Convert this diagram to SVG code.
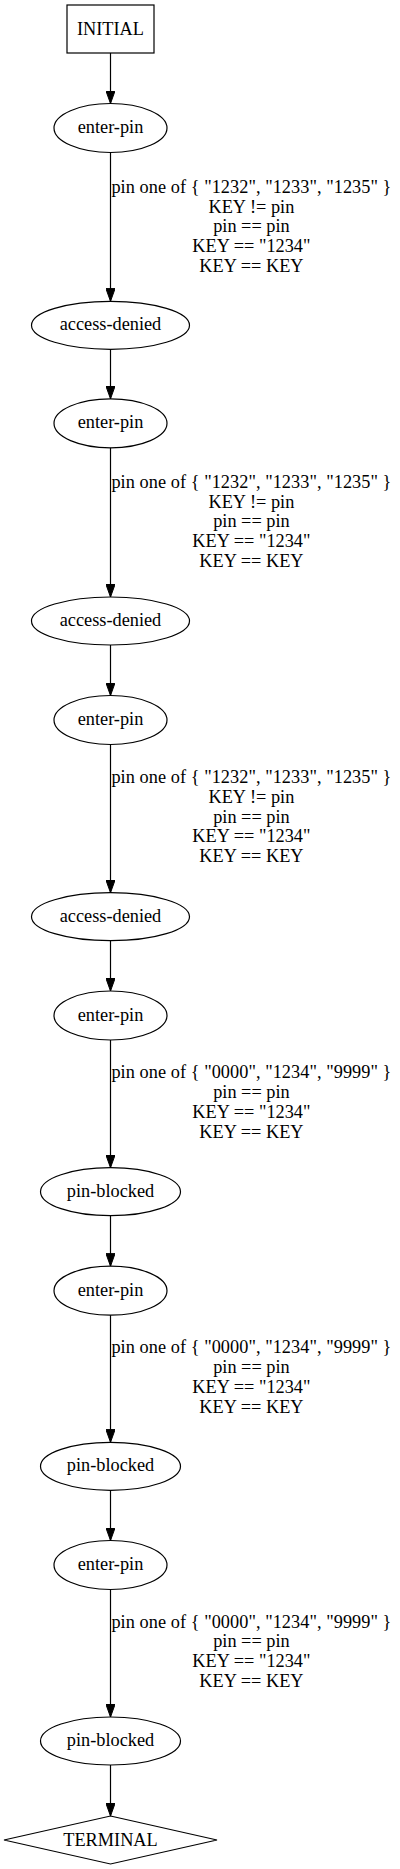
<svg xmlns="http://www.w3.org/2000/svg" width="400" height="1869" viewBox="0 0 400 1869">
<style>
  text { font-family: "Liberation Serif", "Times New Roman", serif; font-size: 18.3px; fill: #000; }
  .n { text-anchor: middle; }
  .lbl { text-anchor: middle; }
  .shape { fill: none; stroke: #000; stroke-width: 1.2; }
  .edge { fill: none; stroke: #000; stroke-width: 1.2; marker-end: url(#arr); }
</style>
<defs>
  <marker id="arr" viewBox="0 0 13 9.4" refX="13" refY="4.7" markerWidth="13" markerHeight="9.4" markerUnits="userSpaceOnUse" orient="auto">
    <path d="M0,0 L13,4.7 L0,9.4 z" fill="#000" stroke="#000" stroke-width="1"/>
  </marker>
</defs>
<rect x="0" y="0" width="400" height="1869" fill="#fff"/>

<g id="edges">
  <path class="edge" d="M110.5,53 L110.5,103.5"/>
  <path class="edge" d="M110.5,152.5 L110.5,301.3"/>
  <path class="edge" d="M110.5,349.3 L110.5,398.8"/>
  <path class="edge" d="M110.5,447.8 L110.5,597"/>
  <path class="edge" d="M110.5,645 L110.5,695.5"/>
  <path class="edge" d="M110.5,744.5 L110.5,892.7"/>
  <path class="edge" d="M110.5,940.7 L110.5,991"/>
  <path class="edge" d="M110.5,1040 L110.5,1167.7"/>
  <path class="edge" d="M110.5,1215.7 L110.5,1266.2"/>
  <path class="edge" d="M110.5,1315.2 L110.5,1442.3"/>
  <path class="edge" d="M110.5,1490.3 L110.5,1540.5"/>
  <path class="edge" d="M110.5,1589.5 L110.5,1717"/>
  <path class="edge" d="M110.5,1765 L110.5,1816"/>

  <g id="label1">
    <text class="lbl" x="251.4" y="192.7" textLength="280" lengthAdjust="spacing">pin one of { "1232", "1233", "1235" }</text>
    <text class="lbl" x="251.4" y="212.5">KEY != pin</text>
    <text class="lbl" x="251.4" y="232.3">pin == pin</text>
    <text class="lbl" x="251.4" y="252.1">KEY == "1234"</text>
    <text class="lbl" x="251.4" y="271.9">KEY == KEY</text>
  </g>
  <g id="label2">
    <text class="lbl" x="251.4" y="487.8" textLength="280" lengthAdjust="spacing">pin one of { "1232", "1233", "1235" }</text>
    <text class="lbl" x="251.4" y="507.6">KEY != pin</text>
    <text class="lbl" x="251.4" y="527.4">pin == pin</text>
    <text class="lbl" x="251.4" y="547.2">KEY == "1234"</text>
    <text class="lbl" x="251.4" y="567">KEY == KEY</text>
  </g>
  <g id="label3">
    <text class="lbl" x="251.4" y="783" textLength="280" lengthAdjust="spacing">pin one of { "1232", "1233", "1235" }</text>
    <text class="lbl" x="251.4" y="802.8">KEY != pin</text>
    <text class="lbl" x="251.4" y="822.6">pin == pin</text>
    <text class="lbl" x="251.4" y="842.4">KEY == "1234"</text>
    <text class="lbl" x="251.4" y="862.2">KEY == KEY</text>
  </g>
  <g id="label4">
    <text class="lbl" x="251.4" y="1078.3" textLength="280" lengthAdjust="spacing">pin one of { "0000", "1234", "9999" }</text>
    <text class="lbl" x="251.4" y="1098.1">pin == pin</text>
    <text class="lbl" x="251.4" y="1117.9">KEY == "1234"</text>
    <text class="lbl" x="251.4" y="1137.7">KEY == KEY</text>
  </g>
  <g id="label5">
    <text class="lbl" x="251.4" y="1353.3" textLength="280" lengthAdjust="spacing">pin one of { "0000", "1234", "9999" }</text>
    <text class="lbl" x="251.4" y="1373.1">pin == pin</text>
    <text class="lbl" x="251.4" y="1392.9">KEY == "1234"</text>
    <text class="lbl" x="251.4" y="1412.7">KEY == KEY</text>
  </g>
  <g id="label6">
    <text class="lbl" x="251.4" y="1627.5" textLength="280" lengthAdjust="spacing">pin one of { "0000", "1234", "9999" }</text>
    <text class="lbl" x="251.4" y="1647.3">pin == pin</text>
    <text class="lbl" x="251.4" y="1667.1">KEY == "1234"</text>
    <text class="lbl" x="251.4" y="1686.9">KEY == KEY</text>
  </g>
</g>

<g id="INITIAL">
  <rect class="shape" x="67" y="5" width="87" height="48"/>
  <text class="n" x="110.5" y="34.5">INITIAL</text>
</g>
<g id="enter-pin-1">
  <ellipse class="shape" cx="110.5" cy="128" rx="56.5" ry="24.5"/>
  <text class="n" x="110.5" y="133">enter-pin</text>
</g>
<g id="access-denied-1">
  <ellipse class="shape" cx="110.5" cy="325.3" rx="79" ry="24"/>
  <text class="n" x="110.5" y="330.3">access-denied</text>
</g>
<g id="enter-pin-2">
  <ellipse class="shape" cx="110.5" cy="423.3" rx="56.5" ry="24.5"/>
  <text class="n" x="110.5" y="428.3">enter-pin</text>
</g>
<g id="access-denied-2">
  <ellipse class="shape" cx="110.5" cy="621" rx="79" ry="24"/>
  <text class="n" x="110.5" y="626">access-denied</text>
</g>
<g id="enter-pin-3">
  <ellipse class="shape" cx="110.5" cy="720" rx="56.5" ry="24.5"/>
  <text class="n" x="110.5" y="725">enter-pin</text>
</g>
<g id="access-denied-3">
  <ellipse class="shape" cx="110.5" cy="916.7" rx="79" ry="24"/>
  <text class="n" x="110.5" y="921.7">access-denied</text>
</g>
<g id="enter-pin-4">
  <ellipse class="shape" cx="110.5" cy="1015.5" rx="56.5" ry="24.5"/>
  <text class="n" x="110.5" y="1020.5">enter-pin</text>
</g>
<g id="pin-blocked-1">
  <ellipse class="shape" cx="110.5" cy="1191.7" rx="70" ry="24"/>
  <text class="n" x="110.5" y="1196.7">pin-blocked</text>
</g>
<g id="enter-pin-5">
  <ellipse class="shape" cx="110.5" cy="1290.7" rx="56.5" ry="24.5"/>
  <text class="n" x="110.5" y="1295.7">enter-pin</text>
</g>
<g id="pin-blocked-2">
  <ellipse class="shape" cx="110.5" cy="1466.3" rx="70" ry="24"/>
  <text class="n" x="110.5" y="1471.3">pin-blocked</text>
</g>
<g id="enter-pin-6">
  <ellipse class="shape" cx="110.5" cy="1565" rx="56.5" ry="24.5"/>
  <text class="n" x="110.5" y="1570">enter-pin</text>
</g>
<g id="pin-blocked-3">
  <ellipse class="shape" cx="110.5" cy="1741" rx="70" ry="24"/>
  <text class="n" x="110.5" y="1746">pin-blocked</text>
</g>
<g id="TERMINAL">
  <polygon class="shape" points="110.5,1816 217,1840 110.5,1864 4,1840"/>
  <text class="n" x="110.5" y="1845.5">TERMINAL</text>
</g>
</svg>
